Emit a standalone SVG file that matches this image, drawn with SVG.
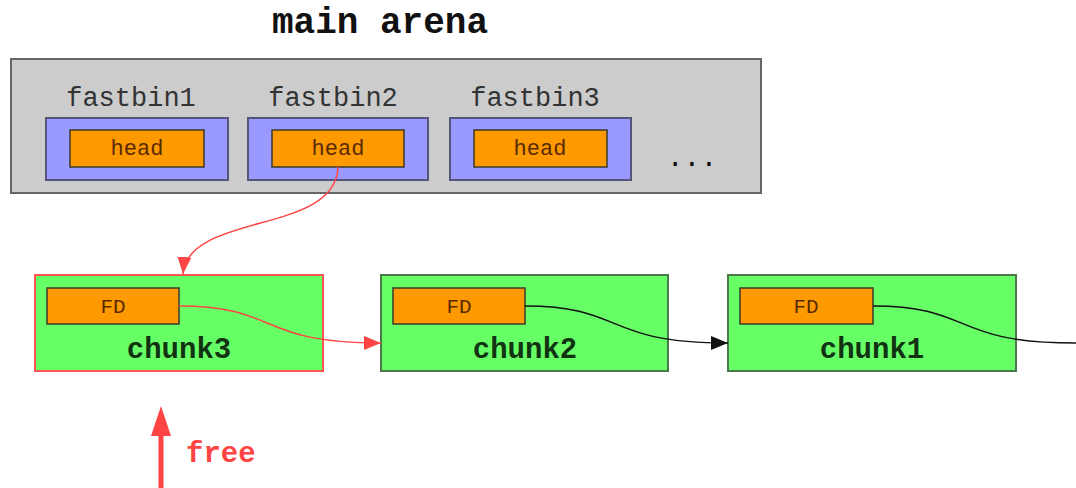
<svg xmlns="http://www.w3.org/2000/svg" width="1076" height="488" viewBox="0 0 1076 488">
<defs>
<style>
.mono{font-family:"Liberation Mono","Courier New",monospace;}
.title{font-size:36px;font-weight:bold;fill:#111;}
.lbl{font-size:27px;fill:#333;}
.head{font-size:22px;fill:#5a2a00;}
.fd{font-size:21px;fill:#5a2a00;}
.chunk{font-size:29px;font-weight:bold;fill:#113311;}
.arena{fill:#cccccc;stroke:#666;stroke-width:2;}
.bin{fill:#9999ff;stroke:#55557a;stroke-width:2;}
.orange{fill:#ff9900;stroke:#3a3a2a;stroke-width:1.5;}
.green{fill:#66ff66;stroke:#4a7a4a;stroke-width:2;}
.green.hot{stroke:#ff5555;}
.redc{fill:none;stroke:#ff4444;stroke-width:1.5;}
.blkc{fill:none;stroke:#111;stroke-width:1.5;}
</style>
<marker id="ar" markerUnits="userSpaceOnUse" markerWidth="18" markerHeight="14" refX="17" refY="7" orient="auto"><path d="M0,0 L17,7 L0,14 Z" fill="#ff4444"/></marker>
<marker id="ab" markerUnits="userSpaceOnUse" markerWidth="18" markerHeight="14" refX="17" refY="7" orient="auto"><path d="M0,0 L17,7 L0,14 Z" fill="#111"/></marker>
</defs>
<rect width="1076" height="488" fill="#fff"/>
<text class="mono title" x="380" y="33" text-anchor="middle">main arena</text>
<g id="arena">
<rect class="arena" x="11" y="59" width="750" height="134"/>
<text class="mono" x="692" y="166" text-anchor="middle" font-size="28" fill="#111">...</text>
</g>
<g id="fastbin1">
<text class="mono lbl" x="131" y="106" text-anchor="middle">fastbin1</text>
<rect class="bin" x="46" y="118" width="182" height="62"/>
<rect class="orange" x="70" y="130" width="134" height="37"/>
<text class="mono head" x="137" y="155" text-anchor="middle">head</text>
</g>
<g id="fastbin2">
<text class="mono lbl" x="333" y="106" text-anchor="middle">fastbin2</text>
<rect class="bin" x="248" y="118" width="180" height="62"/>
<rect class="orange" x="272" y="130" width="132" height="37"/>
<text class="mono head" x="338" y="155" text-anchor="middle">head</text>
</g>
<g id="fastbin3">
<text class="mono lbl" x="535" y="106" text-anchor="middle">fastbin3</text>
<rect class="bin" x="450" y="118" width="181" height="62"/>
<rect class="orange" x="474" y="130" width="133" height="37"/>
<text class="mono head" x="540" y="155" text-anchor="middle">head</text>
</g>
<g id="chunk3">
<rect class="green hot" x="35" y="275" width="288" height="96"/>
<rect class="orange" x="47" y="288" width="132" height="36"/>
<text class="mono fd" x="113" y="313" text-anchor="middle">FD</text>
<text class="mono chunk" x="179" y="358" text-anchor="middle">chunk3</text>
</g>
<g id="chunk2">
<rect class="green" x="381" y="275" width="287" height="96"/>
<rect class="orange" x="393" y="288" width="132" height="36"/>
<text class="mono fd" x="459" y="313" text-anchor="middle">FD</text>
<text class="mono chunk" x="525" y="358" text-anchor="middle">chunk2</text>
</g>
<g id="chunk1">
<rect class="green" x="728" y="275" width="288" height="96"/>
<rect class="orange" x="740" y="288" width="133" height="36"/>
<text class="mono fd" x="806" y="313" text-anchor="middle">FD</text>
<text class="mono chunk" x="872" y="358" text-anchor="middle">chunk1</text>
</g>
<g id="free">
<line x1="161" y1="488" x2="161" y2="430" stroke="#ff4444" stroke-width="5"/>
<path d="M151,436 L161,406 L171,436 Z" fill="#ff4444"/>
<text class="mono" x="186" y="462" font-size="29" font-weight="bold" fill="#ff4444">free</text>
</g>
<g id="connectors">
<path class="redc" d="M338,167 C336,235 188,212 183,274" marker-end="url(#ar)"/>
<path class="redc" d="M179,306 C280,306 255,343 381,343" marker-end="url(#ar)"/>
<path class="blkc" d="M525,306 C626,306 601,343 728,343" marker-end="url(#ab)"/>
<path class="blkc" d="M873,306 C974,306 949,343 1076,343"/>
</g>
</svg>
